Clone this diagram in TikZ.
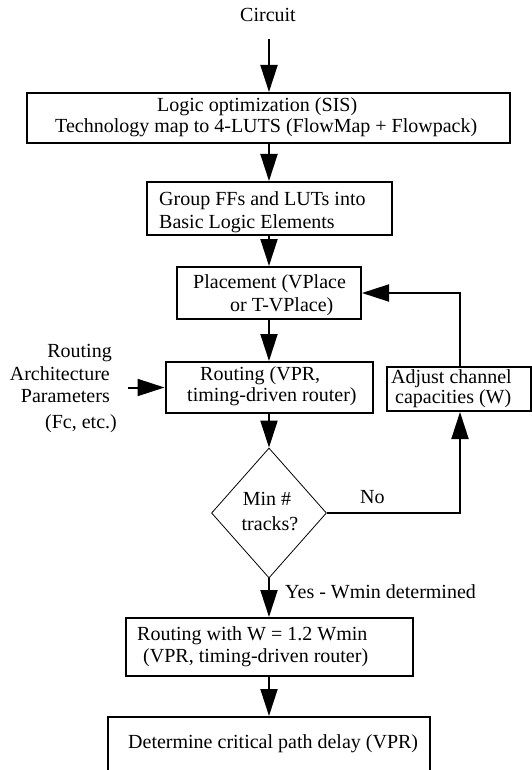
\documentclass[tikz,border=0pt]{standalone}
\usepackage{fontspec}
\setmainfont{Liberation Serif}
\usetikzlibrary{arrows.meta,shapes.geometric}

\tikzset{
  stepbox/.style={draw, rectangle, line width=2pt, inner sep=0pt},
  lbl/.style={inner sep=0pt, font=\fontsize{20}{24}\selectfont},
  arr/.style={line width=2pt, -{Triangle[length=27pt,width=17pt]}},
}

\begin{document}
\begin{tikzpicture}[x=1pt, y=-1pt]
  \useasboundingbox (0,0) rectangle (532,770);
  \clip (0,0) rectangle (532,770);

  % process boxes
  \node[stepbox, minimum width=483, minimum height=50] (b1) at (268.5,118) {};
  \node[stepbox, minimum width=245, minimum height=53] (b2) at (269,208.5) {};
  \node[stepbox, minimum width=184, minimum height=52] (place) at (269,293) {};
  \node[stepbox, minimum width=207, minimum height=51] (route) at (269,387.5) {};
  \node[stepbox, minimum width=144, minimum height=44] (adj) at (459,389) {};
  \node[draw, diamond, line width=0.8pt, inner sep=0pt,
        minimum width=115, minimum height=130] (dia) at (269,513) {};
  \node[stepbox, minimum width=287, minimum height=58] (r2) at (269,647) {};
  \node[stepbox, minimum width=322, minimum height=90] (final) at (269,762) {};

  % texts
  \node[lbl, anchor=base] (tcirc) at (268,22) {Circuit};
  \node[lbl, anchor=base west] (t1a) at (157,112) {Logic optimization (SIS)};
  \node[lbl, anchor=base west] (t1b) at (55,133) {Technology map to 4-LUTS (FlowMap + Flowpack)};
  \node[lbl, anchor=base west] (t2a) at (159,205) {Group FFs and LUTs into};
  \node[lbl, anchor=base west] (t2b) at (159,228) {Basic Logic Elements};
  \node[lbl, anchor=base west] (tpa) at (193,288) {Placement (VPlace};
  \node[lbl, anchor=base west] (tpb) at (230,311) {or T-VPlace)};
  \node[lbl, anchor=base west] (tra) at (200,380) {Routing (VPR,};
  \node[lbl, anchor=base west] (trb) at (187,401) {timing-driven router)};
  \node[lbl, anchor=base east] (tla) at (112,357) {Routing};
  \node[lbl, anchor=base east] (tlb) at (110,380) {Architecture};
  \node[lbl, anchor=base east] (tlc) at (110,402) {Parameters};
  \node[lbl, anchor=base east] (tld) at (117,428) {(Fc, etc.)};
  \node[lbl, anchor=base west] (taa) at (391,383) {Adjust channel};
  \node[lbl, anchor=base west] (tab) at (395,403) {capacities (W)};
  \node[lbl, anchor=base] (tda) at (267,505) {Min \#};
  \node[lbl, anchor=base] (tdb) at (270,530) {tracks?};
  \node[lbl, anchor=base west] (tno) at (360,503) {No};
  \node[lbl, anchor=base west] (tyes) at (285,598) {Yes - Wmin determined};
  \node[lbl, anchor=base west] (tr2a) at (137,640) {Routing with W = 1.2 Wmin};
  \node[lbl, anchor=base west] (tr2b) at (143,662) {(VPR, timing-driven router)};
  \node[lbl, anchor=base west] (tfin) at (128,748) {Determine critical path delay (VPR)};

  % free ends of connectors
  \coordinate (cin) at (269,39);
  \coordinate (pin) at (128,387.5);
  \coordinate (fb) at (460,0);

  % main flow
  \draw[arr] (cin) -- (b1.north -| cin);
  \draw[arr] (b1.south -| cin) -- (b2.north);
  \draw[arr] (b2.south) -- (place.north);
  \draw[arr] (place.south) -- (route.north);
  \draw[arr] (pin) -- (route.west);
  \draw[arr] (route.south) -- (dia.north);
  \draw[arr] (dia.south) -- (r2.north);
  \draw[arr] (r2.south) -- (final.north);

  % feedback loop
  \draw[arr] (dia.east) -| (adj.south -| fb);
  \draw[arr] (adj.north -| fb) |- (place.east);
\end{tikzpicture}
\end{document}
